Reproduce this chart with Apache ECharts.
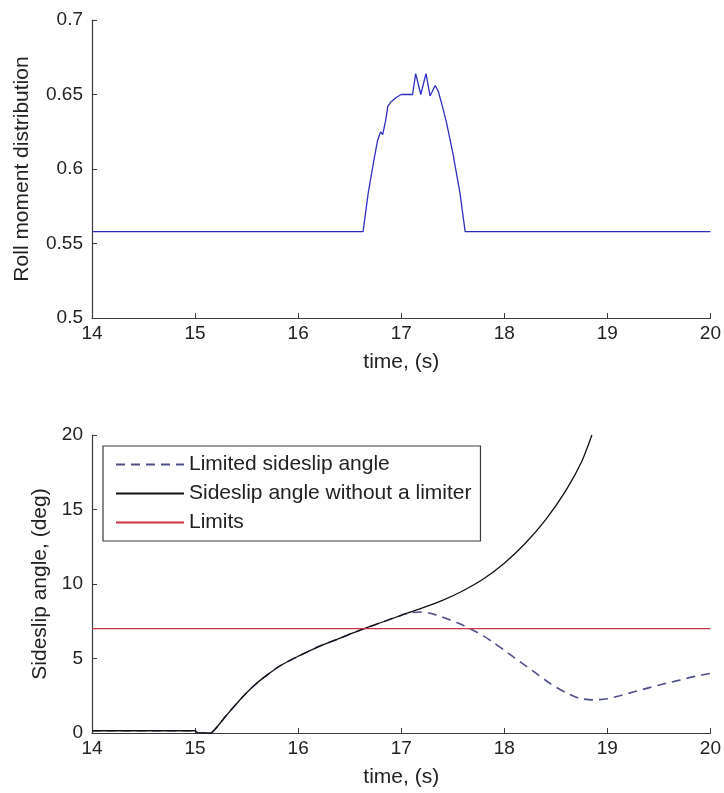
<!DOCTYPE html>
<html>
<head>
<meta charset="utf-8">
<script src="https://cdn.jsdelivr.net/npm/echarts@6/dist/echarts.min.js"></script>
<style>
html,body{margin:0;padding:0;background:#fff;}
#c{width:724px;height:793px;}
</style>
</head>
<body>
<div id="c"></div>
<script>
// ---- Top panel: roll moment distribution ----
const rollTime  = [14, 16.63, 16.68, 16.73, 16.77, 16.80, 16.82, 16.85, 16.87, 16.90, 16.95, 17.00, 17.11, 17.14, 17.19, 17.24, 17.28, 17.33, 17.36, 17.40, 17.44, 17.50, 17.57, 17.62, 20];
const rollValue = [0.558, 0.558, 0.584, 0.604, 0.619, 0.625, 0.623, 0.633, 0.642, 0.645, 0.648, 0.650, 0.650, 0.664, 0.650, 0.664, 0.649, 0.656, 0.652, 0.642, 0.631, 0.611, 0.584, 0.558, 0.558];

// ---- Bottom panel: sideslip angle ----
const freeTime  = [14.0, 15.0, 15.03, 15.15, 15.2, 15.3, 15.4, 15.5, 15.6, 15.7, 15.8, 15.9, 16.0, 16.2, 16.4, 16.6, 16.8, 17.0, 17.2, 17.4, 17.6, 17.8, 18.0, 18.2, 18.4, 18.6, 18.75, 18.85];
const freeValue = [0.15, 0.15, 0.0, 0.0, 0.3, 1.15, 1.95, 2.7, 3.35, 3.9, 4.4, 4.8, 5.15, 5.8, 6.35, 6.9, 7.4, 7.9, 8.38, 8.9, 9.55, 10.35, 11.4, 12.7, 14.3, 16.3, 18.2, 20.0];

const limTime  = [14.0, 15.0, 15.03, 15.15, 15.2, 15.3, 15.4, 15.5, 15.6, 15.7, 15.8, 15.9, 16.0, 16.2, 16.4, 16.6, 16.8, 17.0, 17.1, 17.2, 17.3, 17.43, 17.55, 17.67, 17.8, 17.9, 18.0, 18.15, 18.3, 18.45, 18.6, 18.72, 18.85, 19.0, 19.12, 19.25, 19.4, 19.55, 19.7, 19.85, 20.0];
const limValue = [0.15, 0.15, 0.0, 0.0, 0.3, 1.15, 1.95, 2.7, 3.35, 3.9, 4.4, 4.8, 5.15, 5.8, 6.35, 6.9, 7.4, 7.9, 8.08, 8.12, 8.0, 7.7, 7.38, 7.0, 6.5, 6.05, 5.55, 4.8, 4.05, 3.3, 2.7, 2.35, 2.22, 2.3, 2.5, 2.75, 3.03, 3.3, 3.55, 3.8, 4.0];

const limitTime  = [14, 20];
const limitValue = [7, 7];

const xTicks = {min: 14, max: 20, interval: 1};
const rollTicks = {min: 0.5, max: 0.7, interval: 0.05};
const slipTicks = {min: 0, max: 20, interval: 5};

const names = ['Limited sideslip angle', 'Sideslip angle without a limiter', 'Limits'];

const zip = (a, b) => a.map((v, i) => [v, b[i]]);

const FONT = "'Liberation Sans', Arial, sans-serif";
const TXT = '#222';
const AX = '#3a3a3a';

function xAxis(gridIndex) {
  return {
    type: 'value', gridIndex, min: xTicks.min, max: xTicks.max, interval: xTicks.interval,
    name: 'time, (s)', nameLocation: 'middle', nameGap: 34,
    nameTextStyle: {fontFamily: FONT, fontSize: 21, color: TXT},
    axisLine: {show: true, onZero: false, lineStyle: {color: AX, width: 1.2}},
    axisTick: {show: true, inside: true, length: 5, lineStyle: {color: AX}},
    axisLabel: {fontFamily: FONT, fontSize: 19, color: TXT, margin: 6},
    splitLine: {show: false}
  };
}
function yAxis(gridIndex, t, name, gap) {
  return {
    type: 'value', gridIndex, min: t.min, max: t.max, interval: t.interval,
    name, nameLocation: 'middle', nameGap: gap,
    nameTextStyle: {fontFamily: FONT, fontSize: 21, color: TXT},
    axisLine: {show: true, onZero: false, lineStyle: {color: AX, width: 1.2}},
    axisTick: {show: true, inside: true, length: 5, lineStyle: {color: AX}},
    axisLabel: {fontFamily: FONT, fontSize: 19, color: TXT, margin: 9},
    splitLine: {show: false}
  };
}

const chart = echarts.init(document.getElementById('c'), null, {renderer: 'canvas'});
chart.setOption({
  animation: false,
  backgroundColor: '#fff',
  grid: [
    {left: 92, right: 13, top: 20, height: 298},
    {left: 92, right: 13, top: 435, height: 298}
  ],
  xAxis: [xAxis(0), xAxis(1)],
  yAxis: [yAxis(0, rollTicks, 'Roll moment distribution', 59), yAxis(1, slipTicks, 'Sideslip angle, (deg)', 41)],
  legend: {
    data: names,
    orient: 'vertical', left: 103, top: 446,
    padding: [8, 9, 8, 12],
    itemWidth: 68, itemHeight: 14, itemGap: 8,
    borderColor: AX, borderWidth: 1.2, backgroundColor: '#fff',
    itemStyle: {opacity: 0},
    textStyle: {fontFamily: FONT, fontSize: 21, color: TXT, lineHeight: 21}
  },
  series: [
    {
      name: 'Roll', type: 'line', xAxisIndex: 0, yAxisIndex: 0,
      data: zip(rollTime, rollValue), symbol: 'none', silent: true,
      lineStyle: {color: '#2f2fc0', width: 1.3}
    },
    {
      name: names[0], type: 'line', xAxisIndex: 1, yAxisIndex: 1,
      data: zip(limTime, limValue), symbol: 'none', smooth: 0.25, silent: true,
      itemStyle: {color: '#4f4f8c'},
      lineStyle: {color: '#4f4f8c', width: 1.6, type: [9, 6]}
    },
    {
      name: names[1], type: 'line', xAxisIndex: 1, yAxisIndex: 1,
      data: zip(freeTime, freeValue), symbol: 'none', smooth: 0.25, silent: true,
      itemStyle: {color: '#111'},
      lineStyle: {color: '#111', width: 1.3}
    },
    {
      name: names[2], type: 'line', xAxisIndex: 1, yAxisIndex: 1,
      data: zip(limitTime, limitValue), symbol: 'none', silent: true,
      itemStyle: {color: '#cc3344'},
      lineStyle: {color: '#cc3344', width: 1.3}
    }
  ]
});
</script>
</body>
</html>
